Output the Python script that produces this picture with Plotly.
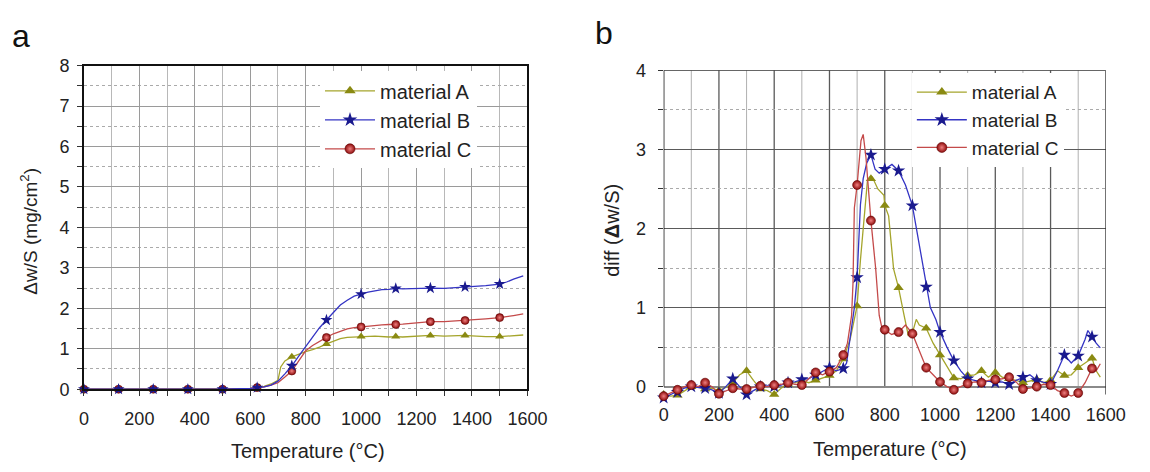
import plotly.graph_objects as go

# ---------------- data: panel a (weight gain, mg/cm2) ----------------
A_T = [0, 125, 250, 375, 500, 600, 625, 650, 675, 700, 710, 725, 750, 775, 800, 825, 850, 875, 900, 925,
       950, 975, 1000, 1050, 1100, 1125, 1150, 1200, 1250, 1300, 1350, 1375, 1400, 1450, 1500, 1550, 1585]
A_W = [0, 0, 0, 0, 0.01, 0.02, 0.04, 0.07, 0.13, 0.22, 0.55, 0.7, 0.8, 0.87, 0.93, 0.98, 1.04, 1.12, 1.19, 1.25,
       1.28, 1.29, 1.3, 1.31, 1.29, 1.3, 1.29, 1.31, 1.33, 1.31, 1.33, 1.33, 1.32, 1.3, 1.3, 1.32, 1.34]

B_T = [0, 125, 250, 375, 500, 600, 625, 650, 675, 700, 725, 750, 775, 800, 825, 850, 875, 900, 925, 950, 975,
       1000, 1025, 1050, 1075, 1100, 1125, 1150, 1200, 1250, 1300, 1350, 1375, 1400, 1450, 1500, 1525, 1550, 1585]
B_W = [0, 0, 0, 0, 0, 0.02, 0.04, 0.06, 0.1, 0.2, 0.38, 0.58, 0.82, 1.06, 1.3, 1.52, 1.71, 1.9, 2.08, 2.2, 2.3,
       2.35, 2.4, 2.43, 2.46, 2.47, 2.49, 2.48, 2.49, 2.5, 2.49, 2.51, 2.53, 2.53, 2.56, 2.6, 2.65, 2.72, 2.8]

C_T = [0, 125, 250, 375, 500, 600, 625, 650, 675, 700, 725, 750, 775, 800, 825, 850, 875, 900, 925, 950, 975,
       1000, 1025, 1050, 1075, 1100, 1125, 1150, 1200, 1250, 1300, 1350, 1375, 1400, 1450, 1500, 1525, 1550, 1585]
C_W = [0, 0, 0, 0, 0, 0.02, 0.04, 0.06, 0.1, 0.16, 0.3, 0.45, 0.7, 0.95, 1.08, 1.19, 1.28, 1.37, 1.44, 1.49, 1.52,
       1.54, 1.56, 1.58, 1.59, 1.6, 1.6, 1.61, 1.64, 1.67, 1.67, 1.69, 1.7, 1.71, 1.74, 1.77, 1.79, 1.82, 1.86]

# ---------------- data: panel b (diff of weight gain) ----------------
DA_T = [0, 25, 50, 75, 100, 125, 150, 175, 200, 225, 250, 275, 300, 325, 350, 375, 400, 425, 450, 475, 500, 525,
        550, 575, 600, 625, 650, 675, 700, 712, 726, 738, 750, 755, 775, 797, 800, 814, 832, 850, 870, 885, 900,
        914, 925, 950, 975, 1000, 1025, 1050, 1075, 1100, 1125, 1150, 1175, 1200, 1225, 1250, 1275, 1300, 1325,
        1350, 1375, 1400, 1425, 1450, 1475, 1500, 1525, 1550, 1565, 1580]
DA_V = [-0.1, -0.12, -0.11, -0.06, 0.0, -0.01, -0.03, -0.02, -0.05, -0.01, 0.05, 0.15, 0.2, 0.08, -0.03, -0.05,
        -0.1, -0.02, 0.03, 0.05, 0.08, 0.05, 0.08, 0.12, 0.14, 0.2, 0.35, 0.6, 1.02, 1.6, 2.14, 2.63, 2.63, 2.65,
        2.5, 2.42, 2.29, 2.16, 1.49, 1.25, 0.9, 0.65, 0.68, 0.85, 0.78, 0.74, 0.55, 0.4, 0.25, 0.11, 0.1, 0.14,
        0.15, 0.2, 0.12, 0.18, 0.12, 0.1, 0.08, 0.05, 0.07, 0.09, 0.05, 0.08, 0.2, 0.14, 0.15, 0.24, 0.3, 0.36,
        0.2, 0.12]

DB_T = [0, 25, 50, 75, 100, 125, 150, 175, 200, 225, 250, 275, 300, 325, 350, 375, 400, 425, 450, 475, 500, 525,
        550, 575, 600, 625, 650, 662, 675, 690, 700, 712, 722, 735, 750, 765, 780, 800, 826, 850, 875, 900, 925,
        950, 965, 985, 1000, 1025, 1050, 1075, 1100, 1125, 1150, 1175, 1200, 1225, 1250, 1275, 1300, 1325, 1350,
        1375, 1400, 1425, 1450, 1475, 1500, 1525, 1535, 1550, 1565, 1580]
DB_V = [-0.14, -0.1, -0.07, -0.02, 0.0, -0.01, -0.02, -0.04, -0.08, 0.0, 0.1, 0.0, -0.1, -0.05, 0.0, 0.01, 0.0,
        0.02, 0.05, 0.06, 0.09, 0.1, 0.15, 0.2, 0.24, 0.2, 0.23, 0.3, 0.6, 1.0, 1.38, 2.3, 2.63, 2.83, 2.93, 2.75,
        2.7, 2.75, 2.81, 2.73, 2.55, 2.29, 1.8, 1.26, 1.0, 0.85, 0.69, 0.5, 0.33, 0.2, 0.1, 0.08, 0.05, 0.07, 0.05,
        0.06, 0.03, 0.08, 0.12, 0.15, 0.08, 0.05, 0.03, 0.2, 0.4, 0.3, 0.39, 0.6, 0.71, 0.63, 0.55, 0.49]

DC_T = [0, 25, 50, 75, 100, 125, 150, 175, 200, 225, 250, 275, 300, 325, 350, 375, 400, 425, 450, 475, 500, 525,
        550, 575, 600, 625, 650, 665, 680, 685, 690, 700, 714, 722, 732, 750, 767, 780, 790, 800, 825, 850, 875,
        900, 925, 950, 975, 1000, 1025, 1050, 1075, 1100, 1125, 1150, 1175, 1200, 1225, 1250, 1275, 1300, 1325,
        1350, 1375, 1400, 1425, 1450, 1475, 1500, 1525, 1550, 1565, 1580]
DC_V = [-0.12, -0.08, -0.04, 0.0, 0.02, 0.0, 0.05, 0.0, -0.09, -0.06, -0.02, -0.03, -0.03, -0.01, 0.01, 0.0, 0.02,
        0.03, 0.05, 0.03, 0.02, 0.1, 0.18, 0.15, 0.19, 0.24, 0.4, 0.55, 0.9, 1.3, 2.26, 2.55, 3.11, 3.19, 2.9, 2.1,
        1.5, 0.9, 0.74, 0.72, 0.66, 0.69, 0.78, 0.67, 0.45, 0.24, 0.15, 0.06, 0.0, -0.04, 0.0, 0.04, 0.06, 0.05,
        0.08, 0.09, 0.1, 0.12, 0.06, -0.03, -0.02, 0.0, 0.03, 0.02, -0.05, -0.08, -0.12, -0.08, 0.05, 0.23, 0.2,
        0.29]

NAMES = ["material A", "material B", "material C"]
X_TICKS = [0, 200, 400, 600, 800, 1000, 1200, 1400, 1600]

# ---------------- styles ----------------
FONT = "Liberation Sans, Arial, sans-serif"
LINE_COL = {"material A": "#a5a52c", "material B": "#3434c4", "material C": "#c44a4a"}
SYM = {"material A": "triangle-up", "material B": "star", "material C": "circle"}
MCOL = {"material A": "#8a8a12", "material B": "#1a1a8e", "material C": "#8e0c0c"}

W, H = 1150, 472


def fx(px):
    return px / W


def fy(py):
    return (H - py) / H


def marker(name, size):
    m = dict(symbol=SYM[name], size=size + (1 if name == "material B" else 0), color=MCOL[name],
             line=dict(width=0))
    if name == "material C":
        m["gradient"] = dict(type="radial", color="#f08080")
        m["line"] = dict(width=0.6, color="#600000")
    return m


fig = go.Figure()


def add_series(T, V, name, xa, ya, step, msize):
    fig.add_trace(go.Scatter(x=T, y=V, mode="lines", line=dict(color=LINE_COL[name], width=1.3),
                             xaxis=xa, yaxis=ya, showlegend=False, hoverinfo="skip"))
    mx = [t for t in T if t % step == 0]
    my = [v for t, v in zip(T, V) if t % step == 0]
    fig.add_trace(go.Scatter(x=mx, y=my, mode="markers", marker=marker(name, msize), xaxis=xa, yaxis=ya,
                             showlegend=False, cliponaxis=False))


# panel a: A, C, B (B on top)
add_series(A_T, A_W, "material A", "x", "y", 125, 8)
add_series(C_T, C_W, "material C", "x", "y", 125, 8)
add_series(B_T, B_W, "material B", "x", "y", 125, 8)
# panel b: A, B, C
add_series(DA_T, DA_V, "material A", "x2", "y2", 50, 9)
add_series(DB_T, DB_V, "material B", "x2", "y2", 50, 9)
add_series(DC_T, DC_V, "material C", "x2", "y2", 50, 9)

# legend entries (in order A, B, C) for both panels
for lg, xa_, ya_ in (("legend", "x", "y"), ("legend2", "x2", "y2")):
    for name in NAMES:
        fig.add_trace(go.Scatter(x=[None], y=[None], mode="lines+markers", name=name,
                                 line=dict(color=LINE_COL[name], width=1.3), marker=marker(name, 10),
                                 xaxis=xa_, yaxis=ya_, legend=lg, legendgroup=name + lg))

tickfont = dict(family=FONT, size=18, color="#222")

# panel a axes
xa = dict(domain=[fx(80.7), fx(534)], range=[0, 1600], tickvals=X_TICKS, showline=True, mirror=True,
          linecolor="#111", linewidth=1.5, showgrid=True, gridcolor="#9a9a9a", gridwidth=1,
          ticks="outside", ticklen=5, tickcolor="#333", zeroline=False, tickfont=tickfont,
          minor=dict(dtick=100, showgrid=True, gridcolor="#b8b8b8", ticks="outside", ticklen=5, tickcolor="#333"),
          anchor="y", ticklabelstandoff=7)
ya = dict(domain=[fy(396), fy(58)], range=[0, 8], dtick=1, showline=True, mirror=True,
          linecolor="#111", linewidth=1.5, showgrid=True, gridcolor="#9a9a9a", ticks="outside", ticklen=5,
          tickcolor="#333", zeroline=False, tickfont=tickfont,
          minor=dict(dtick=0.5, showgrid=True, gridcolor="#aaaaaa", griddash="dot", ticks="outside",
                     ticklen=5, tickcolor="#333"),
          anchor="x", ticklabelstandoff=4)

# panel b axes
xb = dict(domain=[fx(673.3), fx(1125.3)], range=[0, 1600], tickvals=X_TICKS, showline=False, showgrid=False,
          ticks="", zeroline=False, tickfont=tickfont, anchor="y2", ticklabelstandoff=3)
yb = dict(domain=[fy(405.7), fy(63)], range=[-0.15, 4], dtick=1, showline=False,
          showgrid=True, gridcolor="#5a5a5a", gridwidth=1.4, ticks="outside", ticklen=5, tickcolor="#333",
          zeroline=True, zerolinecolor="#8a8a8a", zerolinewidth=2, tickfont=tickfont,
          minor=dict(dtick=0.5, showgrid=True, gridcolor="#aaaaaa", griddash="dot", ticks="outside",
                     ticklen=5, tickcolor="#333"),
          anchor="x2", ticklabelstandoff=8)

shapes = []
for g in range(100, 1600, 100):
    shapes.append(dict(type="line", xref="x2", yref="y2", x0=g, x1=g, y0=0, y1=4, layer="below",
                       line=dict(color="#5a5a5a" if g % 200 == 0 else "#b0b0b0", width=1.3 if g % 200 == 0 else 1)))
shapes.append(dict(type="line", xref="x2", yref="y2", x0=0, x1=0, y0=0, y1=4, line=dict(color="#111", width=1.5)))
shapes.append(dict(type="line", xref="x2", yref="y2", x0=1600, x1=1600, y0=-0.1, y1=4,
                   line=dict(color="#333", width=1.3)))
shapes.append(dict(type="line", xref="x2", yref="y2", x0=0, x1=1600, y0=4, y1=4, line=dict(color="#333", width=1.5)))


def ann(text, px, py, size=20, angle=0):
    return dict(text=text, x=fx(px), y=fy(py), xref="paper", yref="paper", showarrow=False,
                xanchor="center", yanchor="middle", textangle=angle,
                font=dict(family=FONT, size=size, color="#111" if size > 24 else "#222"))


annotations = [
    ann("a", 16, 27, 32),
    ann("b", 612, 24, 32),
    ann("Temperature (°C)", 310, 460),
    ann("Temperature (°C)", 905, 458),
    ann("Δw/S (mg/cm<sup>2</sup>)", 25, 231, 19, -90),
    ann("diff (<b>Δ</b>w/S)", 621, 230, 20, -90),
]

fig.update_layout(
    width=W, height=H, margin=dict(l=0, r=0, t=0, b=0),
    paper_bgcolor="white", plot_bgcolor="white",
    xaxis=xa, yaxis=ya, xaxis2=xb, yaxis2=yb,
    shapes=shapes, annotations=annotations,
    legend=dict(x=fx(322), y=fy(64), xanchor="left", yanchor="top", bgcolor="white",
                font=dict(family=FONT, size=20, color="#222"), tracegroupgap=0, itemwidth=50),
    legend2=dict(x=fx(927), y=fy(66), xanchor="left", yanchor="top", bgcolor="white",
                 font=dict(family=FONT, size=19, color="#222"), tracegroupgap=0, itemwidth=50),
    showlegend=True,
)

fig.write_html("out.html")
